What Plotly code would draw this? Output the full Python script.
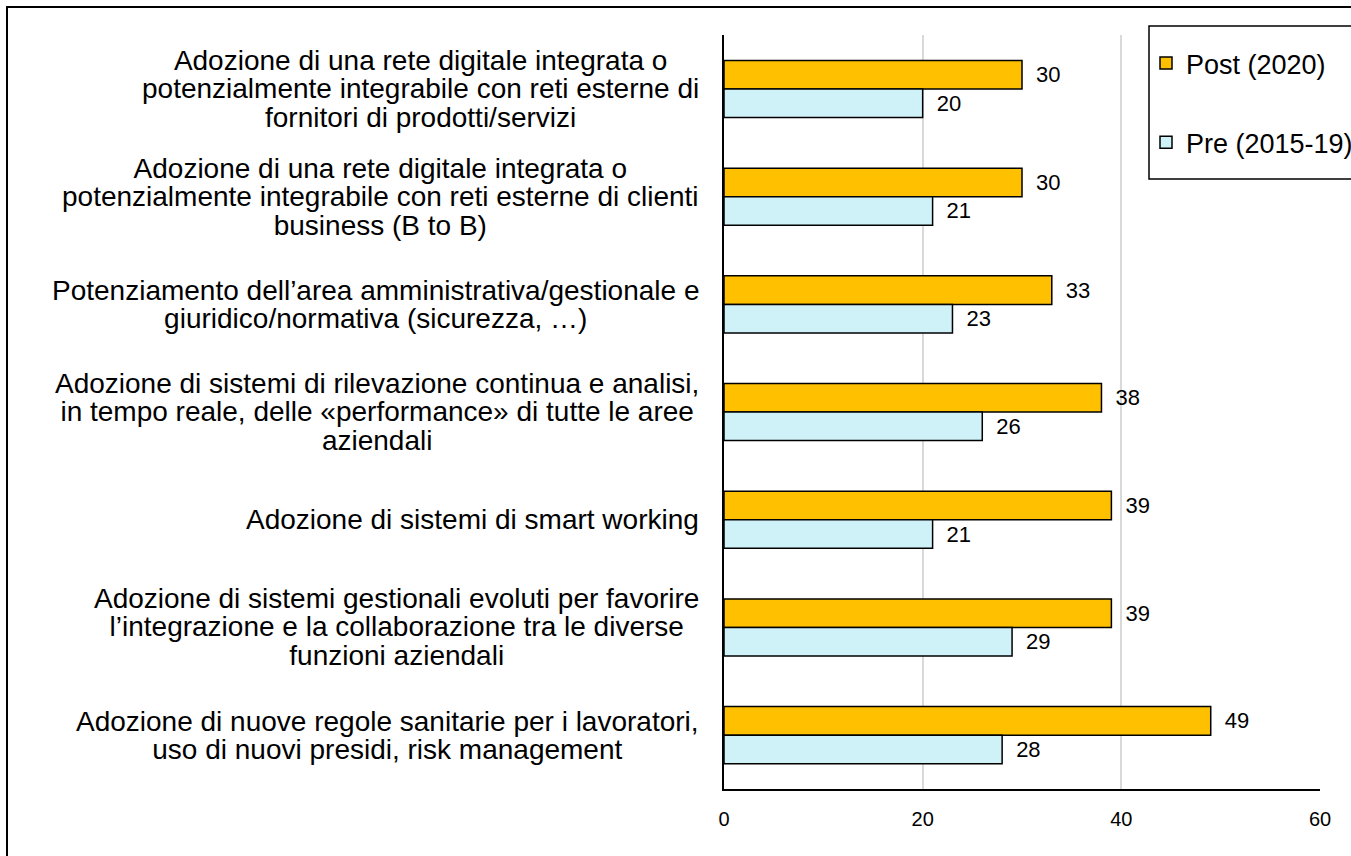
import plotly.graph_objects as go

categories = [
    "Adozione di una rete digitale integrata o<br>potenzialmente integrabile con reti esterne di<br>fornitori di prodotti/servizi",
    "Adozione di una rete digitale integrata o<br>potenzialmente integrabile con reti esterne di clienti<br>business (B to B)",
    "Potenziamento dell\u2019area amministrativa/gestionale e<br>giuridico/normativa (sicurezza, \u2026)",
    "Adozione di sistemi di rilevazione continua e analisi,<br>in tempo reale, delle \u00abperformance\u00bb di tutte le aree<br>aziendali",
    "Adozione di sistemi di smart working",
    "Adozione di sistemi gestionali evoluti per favorire<br>l\u2019integrazione e la collaborazione tra le diverse<br>funzioni aziendali",
    "Adozione di nuove regole sanitarie per i lavoratori,<br>uso di nuovi presidi, risk management",
]
post_2020 = [30, 30, 33, 38, 39, 39, 49]
pre_2015_19 = [20, 21, 23, 26, 21, 29, 28]
series_names = ["Post (2020)", "Pre (2015-19)"]
x_ticks = [0, 20, 40, 60]

FONT = "Liberation Sans, Arial, sans-serif"
LABEL_SIZE = 28
LINE_K = 1.02  # line spacing in em for multi-line category labels

fig = go.Figure()
fig.add_trace(go.Bar(
    y=categories, x=post_2020, orientation="h", name=series_names[0],
    marker=dict(color="#FFC000", line=dict(color="black", width=1.5)),
    text=post_2020, texttemplate="\u2002%{x}", textposition="outside",
    textfont=dict(size=22, color="black", family=FONT),
    legendgroup="a",
))
fig.add_trace(go.Bar(
    y=categories, x=pre_2015_19, orientation="h", name=series_names[1],
    marker=dict(color="#CFF2F8", line=dict(color="black", width=1.5)),
    text=pre_2015_19, texttemplate="\u2002%{x}", textposition="outside",
    textfont=dict(size=22, color="black", family=FONT),
    legendgroup="b",
))

L, R, T, B = 724, 31, 35, 67
W, H = 1351, 856
pw, ph = W - L - R, H - T - B

def px_x(p):
    return (p - L) / pw

def px_y(p):
    return (H - B - p) / ph

for c in categories:
    fig.add_annotation(
        x=px_x(701), xref="paper", xanchor="right",
        y=c, yref="y", yanchor="middle",
        text=c, showarrow=False, align="center",
        font=dict(size=LABEL_SIZE, color="black", family=FONT),
    )

# outer chart border
fig.add_shape(type="rect", xref="paper", yref="paper",
              x0=px_x(7), x1=px_x(1400), y0=px_y(900), y1=px_y(7),
              line=dict(color="black", width=2), fillcolor="rgba(0,0,0,0)", layer="below")
# legend box
fig.add_shape(type="rect", xref="paper", yref="paper",
              x0=px_x(1149), x1=px_x(1400), y0=px_y(179), y1=px_y(26),
              line=dict(color="black", width=1.5), fillcolor="white", layer="above")

fig.update_layout(
    width=W, height=H,
    margin=dict(l=L, r=R, t=T, b=B, autoexpand=False),
    paper_bgcolor="white", plot_bgcolor="white",
    barmode="group", bargap=0.47, bargroupgap=0,
    font=dict(family=FONT, color="black"),
    showlegend=True,
    legend=dict(
        x=px_x(1146), y=px_y(39), xanchor="left", yanchor="top",
        borderwidth=0, bgcolor="rgba(0,0,0,0)",
        font=dict(size=27, color="black", family=FONT),
        tracegroupgap=41, traceorder="grouped",
    ),
    xaxis=dict(
        range=[0, 60], tickvals=x_ticks, ticks="", showgrid=True,
        gridcolor="#D9D9D9", gridwidth=1.5, showline=True, linecolor="black",
        linewidth=2, zeroline=False, tickfont=dict(size=20, color="black"),
        ticklabelstandoff=11,
    ),
    yaxis=dict(
        autorange="reversed", showticklabels=False, ticks="", showgrid=False,
        showline=True, linecolor="black", linewidth=1.5, zeroline=False,
    ),
)

post_js = """
document.body.style.margin = '0';
var gd = document.getElementById('{plot_id}');
var K = %s;
gd.querySelectorAll('text.annotation-text').forEach(function(t) {
  var lines = t.querySelectorAll('tspan.line');
  var n = lines.length;
  if (n < 2) return;
  var fs = parseFloat(t.style.fontSize);
  lines.forEach(function(l, i) { l.setAttribute('dy', (i * K) + 'em'); });
  var tr = t.getAttribute('transform') || '';
  t.setAttribute('transform', tr + ' translate(0,' + ((n - 1) * (1.3 - K) * fs / 2) + ')');
});
""" % LINE_K

fig.write_html("out.html", post_script=post_js, config={"displayModeBar": False})
